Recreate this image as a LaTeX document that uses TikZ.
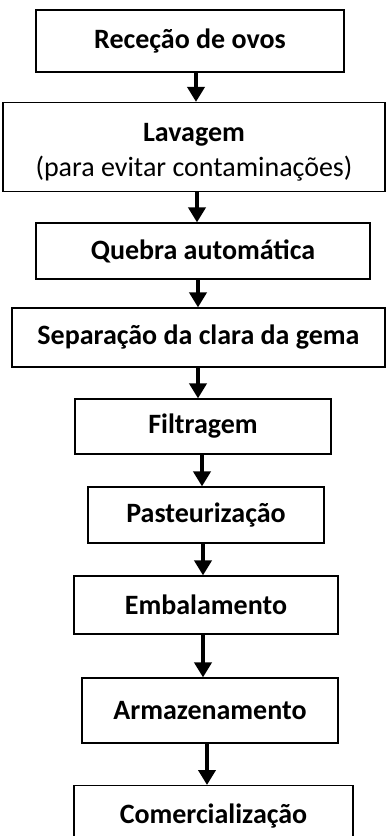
\documentclass[tikz,border=0pt]{standalone}
\usepackage{fontspec}
\setmainfont{Carlito}
\usetikzlibrary{arrows.meta,positioning}

\begin{document}
\begin{tikzpicture}[x=1pt,y=-1pt,
    every node/.style={font=\fontsize{28}{31}\selectfont}]
    \tikzset{StepBox/.style={draw, line width=1.2pt, rectangle, inner sep=0pt,
        align=center, font=\fontsize{28}{35}\selectfont\bfseries},
      FlowArrow/.style={-{Triangle[width=17pt,length=15pt]}, line width=4pt}}
    \useasboundingbox (0,0) rectangle (386,836);

    \node[StepBox, minimum width=308pt, minimum height=62pt] (rececao) at (190,41) {Receção de ovos};
    \node[StepBox, minimum width=382pt, minimum height=89pt] (lavagem) at (194,147)
      {\rule{0pt}{29pt}Lavagem\\\mdseries(para evitar contaminações)};
    \node[StepBox, minimum width=334pt, minimum height=56pt] (quebra) at (203,251) {Quebra automática};
    \node[StepBox, minimum width=373pt, minimum height=59pt] (separacao) at (198.5,337.5) {Separação da clara da gema};
    \node[StepBox, minimum width=256pt, minimum height=55pt] (filtragem) at (203,426.5) {Filtragem};
    \node[StepBox, minimum width=236pt, minimum height=56pt] (pasteurizacao) at (206,515) {Pasteurização};
    \node[StepBox, minimum width=264pt, minimum height=58pt] (embalamento) at (206,605) {Embalamento};
    \node[StepBox, minimum width=256pt, minimum height=65pt] (armazenamento) at (210,710.5) {Armazenamento};
    \node[StepBox, minimum width=279pt, minimum height=80pt, text height=20pt, text depth=24pt,
      anchor=north] (comercializacao) at (213.5,785) {Comercialização};

    \draw[FlowArrow] (rececao.south -| 196,0) -- (lavagem.north -| 196,0);
    \draw[FlowArrow] (lavagem.south -| 197,0) -- (quebra.north -| 197,0);
    \draw[FlowArrow] (quebra.south -| 198,0) -- (separacao.north -| 198,0);
    \draw[FlowArrow] (separacao.south -| 198,0) -- (filtragem.north -| 198,0);
    \draw[FlowArrow] (filtragem.south -| 202,0) -- (pasteurizacao.north -| 202,0);
    \draw[FlowArrow] (pasteurizacao.south -| 203,0) -- (embalamento.north -| 203,0);
    \draw[FlowArrow] (embalamento.south -| 203,0) -- (armazenamento.north -| 203,0);
    \draw[FlowArrow] (armazenamento.south -| 207,0) -- (comercializacao.north -| 207,0);
\end{tikzpicture}
\end{document}
